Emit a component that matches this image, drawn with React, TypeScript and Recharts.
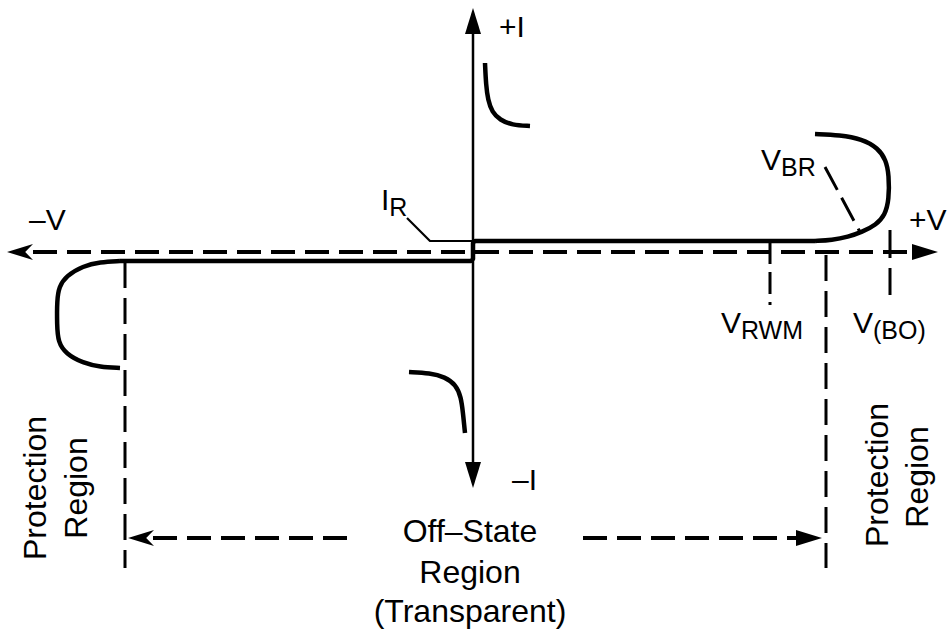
import { ComposedChart, Line, Scatter, XAxis, YAxis } from 'recharts';

// V-I characteristic of a transient suppressor, in arbitrary diagram units
// (v: voltage, i: current). Origin sits where the two axes cross.

const leftHook = [
  { v: -35.3, i: -11.6 },
  { v: -37.3, i: -11.5 },
  { v: -39.0, i: -11.1 },
  { v: -40.7, i: -10.2 },
  { v: -41.5, i: -9.0 },
  { v: -41.6, i: -7.3 },
  { v: -41.6, i: -4.8 },
  { v: -41.4, i: -3.5 },
  { v: -40.7, i: -2.4 },
  { v: -39.0, i: -1.4 },
  { v: -37.3, i: -1.0 },
  { v: -35.3, i: -0.9 },
];

const offStateTrace = [
  { v: -35.3, i: -0.9 },
  { v: -0.2, i: -0.9 },
  { v: 0, i: -0.7 },
  { v: 0, i: 0.9 },
  { v: 0.2, i: 1.1 },
  { v: 34.2, i: 1.1 },
];

const rightHook = [
  { v: 34.2, i: 1.1 },
  { v: 35.9, i: 1.2 },
  { v: 37.5, i: 1.5 },
  { v: 38.9, i: 2.0 },
  { v: 40.3, i: 2.7 },
  { v: 41.2, i: 3.7 },
  { v: 41.6, i: 5.2 },
  { v: 41.6, i: 7.7 },
  { v: 41.3, i: 9.2 },
  { v: 40.5, i: 10.4 },
  { v: 38.9, i: 11.3 },
  { v: 36.7, i: 11.7 },
  { v: 34.2, i: 11.8 },
];

const forwardHook = [
  { v: 1.2, i: 18.9 },
  { v: 1.3, i: 16.7 },
  { v: 1.5, i: 15.2 },
  { v: 1.9, i: 14.0 },
  { v: 2.7, i: 13.2 },
  { v: 3.9, i: 12.7 },
  { v: 5.7, i: 12.6 },
];

const reverseHook = [
  { v: -6.4, i: -12.0 },
  { v: -4.3, i: -12.1 },
  { v: -2.8, i: -12.5 },
  { v: -1.7, i: -13.3 },
  { v: -1.2, i: -14.5 },
  { v: -1.0, i: -16.1 },
  { v: -0.8, i: -18.1 },
];

const currentAxis = [
  { v: 0, i: 22.0 },
  { v: 0, i: -21.2 },
];

const voltageAxis = [
  { v: -44.0, i: 0 },
  { v: 44.0, i: 0 },
];

const irLeader = [
  { v: -6.6, i: 3.4 },
  { v: -4.3, i: 1.1 },
  { v: -0.1, i: 1.1 },
];

const vbrLeader = [
  { v: 35.2, i: 8.5 },
  { v: 38.7, i: 2.0 },
];

const leftEdge = [
  { v: -34.8, i: -1.0 },
  { v: -34.8, i: -31.6 },
];

const rightEdge = [
  { v: 35.3, i: -0.3 },
  { v: 35.3, i: -31.6 },
];

const vrwmMark = [
  { v: 29.7, i: 1.0 },
  { v: 29.7, i: -5.3 },
];

const vboMark = [
  { v: 41.7, i: 2.2 },
  { v: 41.7, i: -4.3 },
];

const spanLeft = [
  { v: -32.0, i: -28.6 },
  { v: -11.7, i: -28.6 },
];

const spanRight = [
  { v: 11.0, i: -28.6 },
  { v: 32.5, i: -28.6 },
];

const arrowTips = [
  { v: 0, i: 24.4, dir: 'up', notch: false },
  { v: 0, i: -23.6, dir: 'down', notch: false },
  { v: -46.6, i: 0, dir: 'left', notch: true },
  { v: 46.5, i: 0, dir: 'right', notch: false },
  { v: -34.5, i: -28.6, dir: 'left', notch: true },
  { v: 34.9, i: -28.6, dir: 'right', notch: false },
];

const axisLabels = [
  { v: 2.6, i: 21.5, text: '+I', sub: '', kind: 'sym' },
  { v: 3.9, i: -23.8, text: '–I', sub: '', kind: 'sym' },
  { v: -44.4, i: 2.2, text: '–V', sub: '', kind: 'sym' },
  { v: 43.6, i: 2.2, text: '+V', sub: '', kind: 'sym' },
  { v: -9.2, i: 4.2, text: 'I', sub: 'R', kind: 'sym' },
  { v: 28.8, i: 8.2, text: 'V', sub: 'BR', kind: 'sym' },
  { v: 24.8, i: -8.1, text: 'V', sub: 'RWM', kind: 'sym' },
  { v: 38.0, i: -8.1, text: 'V', sub: '(BO)', kind: 'sym' },
];

const regionLabels = [
  { v: -0.3, i: -29.0, text: 'Off–State', sub: '', kind: 'center' },
  { v: -0.3, i: -33.1, text: 'Region', sub: '', kind: 'center' },
  { v: -0.3, i: -37.0, text: '(Transparent)', sub: '', kind: 'center' },
  { v: -42.7, i: -23.6, text: 'Protection', sub: '', kind: 'side' },
  { v: -38.6, i: -23.6, text: 'Region', sub: '', kind: 'side' },
  { v: 41.5, i: -22.3, text: 'Protection', sub: '', kind: 'side' },
  { v: 45.5, i: -22.5, text: 'Region', sub: '', kind: 'side' },
];

const FONT = '"Liberation Sans", Arial, Helvetica, sans-serif';
const INK = '#000';

const ANGLES: Record<string, number> = { right: 0, down: 90, left: 180, up: -90 };

function ArrowHead({ cx, cy, payload }: any) {
  const len = 26;
  const half = 8;
  const back = payload.notch ? len * 0.7 : len;
  const pts = `0,0 ${-len},${-half} ${-back},0 ${-len},${half}`;
  return (
    <polygon
      points={pts}
      fill={INK}
      transform={`translate(${cx} ${cy}) rotate(${ANGLES[payload.dir]})`}
    />
  );
}

function TextMark({ cx, cy, payload }: any) {
  const { text, sub, kind } = payload;
  if (kind === 'side') {
    return (
      <text
        x={cx}
        y={cy}
        fontFamily={FONT}
        fontSize={32}
        fill={INK}
        textAnchor="middle"
        transform={`rotate(-90 ${cx} ${cy})`}
      >
        {text}
      </text>
    );
  }
  if (kind === 'center') {
    return (
      <text x={cx} y={cy} fontFamily={FONT} fontSize={32} fill={INK} textAnchor="middle">
        {text}
      </text>
    );
  }
  return (
    <text x={cx} y={cy} fontFamily={FONT} fontSize={30} fill={INK}>
      {text}
      {sub ? (
        <tspan fontSize={25} dy={6}>
          {sub}
        </tspan>
      ) : null}
    </text>
  );
}

const traceProps = {
  dataKey: 'i',
  stroke: INK,
  dot: false,
  activeDot: false,
  isAnimationActive: false,
  strokeLinejoin: 'round' as const,
};

export default function App() {
  return (
    <div style={{ position: 'absolute', left: 0, top: 0, background: '#fff' }}>
      <ComposedChart width={947} height={632} margin={{ top: 0, right: 0, bottom: 0, left: 0 }}>
        <XAxis type="number" dataKey="v" domain={[-47.3, 47.4]} hide allowDataOverflow />
        <YAxis type="number" dataKey="i" domain={[-38, 25.2]} hide allowDataOverflow />

        {/* axes */}
        <Line {...traceProps} data={currentAxis} type="linear" strokeWidth={2.5} />
        <Line {...traceProps} data={voltageAxis} type="linear" strokeWidth={4} strokeDasharray="24 10" />

        {/* region boundaries and markers */}
        <Line {...traceProps} data={leftEdge} type="linear" strokeWidth={3} strokeDasharray="26 10" />
        <Line {...traceProps} data={rightEdge} type="linear" strokeWidth={3} strokeDasharray="26 10" />
        <Line {...traceProps} data={vrwmMark} type="linear" strokeWidth={3} strokeDasharray="22 8" />
        <Line {...traceProps} data={vboMark} type="linear" strokeWidth={3} strokeDasharray="28 10" />
        <Line {...traceProps} data={spanLeft} type="linear" strokeWidth={4} strokeDasharray="24 10" />
        <Line {...traceProps} data={spanRight} type="linear" strokeWidth={4} strokeDasharray="24 10" />
        <Line {...traceProps} data={vbrLeader} type="linear" strokeWidth={3} strokeDasharray="26 9" />
        <Line {...traceProps} data={irLeader} type="linear" strokeWidth={2.2} />

        {/* device characteristic */}
        <Line {...traceProps} data={leftHook} type="basis" strokeWidth={4.5} />
        <Line {...traceProps} data={offStateTrace} type="linear" strokeWidth={4.5} />
        <Line {...traceProps} data={rightHook} type="basis" strokeWidth={4.5} />
        <Line {...traceProps} data={forwardHook} type="basis" strokeWidth={4.5} />
        <Line {...traceProps} data={reverseHook} type="basis" strokeWidth={4.5} />

        <Scatter data={arrowTips} dataKey="i" shape={(p: any) => <ArrowHead {...p} />} isAnimationActive={false} />
        <Scatter data={axisLabels} dataKey="i" shape={(p: any) => <TextMark {...p} />} isAnimationActive={false} />
        <Scatter data={regionLabels} dataKey="i" shape={(p: any) => <TextMark {...p} />} isAnimationActive={false} />
      </ComposedChart>
    </div>
  );
}
